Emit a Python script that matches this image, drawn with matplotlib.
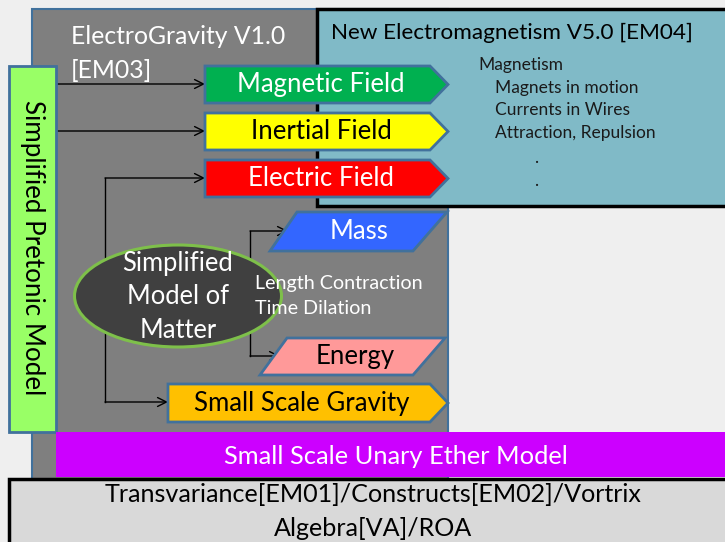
import matplotlib.pyplot as plt
from matplotlib.patches import Polygon, Rectangle, Ellipse

plt.rcParams['font.family'] = ['Lato', 'DejaVu Sans']

# --- labels and colours of the diagram blocks ---
field_labels = ["Magnetic Field", "Inertial Field", "Electric Field"]
field_colors = ["#00b050", "#ffff00", "#ff0000"]
field_text = ["white", "black", "white"]

para_labels = ["Mass", "Energy"]
para_colors = ["#3366ff", "#ff9999"]
para_text = ["white", "black"]

gravity_label = "Small Scale Gravity"
em_title = "New Electromagnetism V5.0 [EM04]"
em_items = ["Magnetism", "Magnets in motion", "Currents in Wires", "Attraction, Repulsion", ".", "."]
eg_title = ["ElectroGravity V1.0", "[EM03]"]
matter_label = ["Simplified", "Model of", "Matter"]
relativity_items = ["Length Contraction", "Time Dilation"]
pretonic_label = "Simplified Pretonic Model"
ether_label = "Small Scale Unary Ether Model"
base_label = ["Transvariance[EM01]/Constructs[EM02]/Vortrix", "Algebra[VA]/ROA"]

EDGE = "#41719c"

fig = plt.figure(figsize=(7.25, 5.42), dpi=100, facecolor="#efefef")
ax = fig.add_axes([0, 0, 1, 1])
ax.set_xlim(0, 725)
ax.set_ylim(542, 0)
ax.axis("off")


def pentagon(x0, x1, y0, y1, color, tip=18, z=5):
    ym = (y0 + y1) / 2
    pts = [(x0, y0), (x1 - tip, y0), (x1, ym), (x1 - tip, y1), (x0, y1)]
    ax.add_patch(Polygon(pts, closed=True, fc=color, ec=EDGE, lw=2, zorder=z))


def parallelogram(xbl, xtl, xtr, xbr, y0, y1, color, z=5):
    pts = [(xtl, y0), (xtr, y0), (xbr, y1), (xbl, y1)]
    ax.add_patch(Polygon(pts, closed=True, fc=color, ec=EDGE, lw=2, zorder=z))


def connector(x0, y0, x1, y1):
    ax.annotate("", xy=(x1, y1), xytext=(x0, y0),
                arrowprops=dict(arrowstyle="->", lw=1, color="black",
                                shrinkA=0, shrinkB=0, mutation_scale=16),
                zorder=3)


# big grey ElectroGravity box
ax.add_patch(Rectangle((32, 9), 416, 472, fc="#7f7f7f", ec=EDGE, lw=1.5, zorder=1))
# teal electromagnetism box
ax.add_patch(Rectangle((317, 9), 420, 197, fc="#80bac7", ec="black", lw=2.5, zorder=2))

for t, y in zip(eg_title, [36, 70]):
    ax.text(71, y, t, color="white", fontsize=17.8, ha="left", va="center", zorder=6)
ax.text(331, 33, em_title, color="black", fontsize=16.2, ha="left", va="center", zorder=6)
em_x = [478, 495, 495, 495, 534, 534]
em_y = [65, 88, 110, 133, 158, 181]
for t, x, y in zip(em_items, em_x, em_y):
    ax.text(x, y, t, color="#1a1a1a", fontsize=12.5, ha="left", va="center", zorder=6)

# field arrows
field_y = [(66, 103), (113, 150), (160, 197)]
for lab, col, tc, (y0, y1) in zip(field_labels, field_colors, field_text, field_y):
    pentagon(205, 448, y0, y1, col)
    ax.text(321, (y0 + y1) / 2, lab, color=tc, fontsize=18.5, ha="center", va="center", zorder=6)

# mass / energy parallelograms
para_geom = [(270, 297, 447, 413, 212, 251), (260, 287, 445, 413, 338, 375)]
para_tx = [359, 355]
for lab, col, tc, g, tx in zip(para_labels, para_colors, para_text, para_geom, para_tx):
    parallelogram(*g, col)
    ax.text(tx, (g[4] + g[5]) / 2, lab, color=tc, fontsize=18.5, ha="center", va="center", zorder=6)

# small scale gravity arrow
pentagon(168, 448, 384, 422, "#ffc000")
ax.text(302, 404, gravity_label, color="black", fontsize=18.5, ha="center", va="center", zorder=6)

# connector lines
connector(56, 84, 205, 84)
connector(56, 131, 205, 131)
ax.plot([105, 105], [178, 402], color="black", lw=1, zorder=3)
connector(105, 178, 205, 178)
connector(105, 402, 168, 402)
ax.plot([250, 250], [231, 356], color="black", lw=1, zorder=3)
connector(250, 231, 288, 231)
connector(250, 356, 280, 356)

# ellipse: simplified model of matter
ax.add_patch(Ellipse((178, 296), 207, 102, fc="#404040", ec="#7ec04a", lw=2.2, zorder=4))
for t, y in zip(matter_label, [263, 297, 331]):
    ax.text(178, y, t, color="white", fontsize=18.4, ha="center", va="center", zorder=6)
for t, y in zip(relativity_items, [283, 309]):
    ax.text(255, y, t, color="white", fontsize=14.2, ha="left", va="center", zorder=6)

# green vertical pretonic bar
ax.add_patch(Rectangle((9, 66), 47, 366, fc="#99ff66", ec=EDGE, lw=2, zorder=5))
ax.text(32, 248, pretonic_label, color="black", fontsize=18.7, rotation=-90,
        ha="center", va="center", zorder=6)

# purple ether bar
ax.add_patch(Rectangle((56, 432), 680, 45, fc="#cc00ff", ec="none", zorder=5))
ax.text(396, 456, ether_label, color="white", fontsize=18.3, ha="center", va="center", zorder=6)

# bottom base box
ax.add_patch(Rectangle((9, 479), 730, 70, fc="#d9d9d9", ec="black", lw=2.5, zorder=7))
for t, y in zip(base_label, [495, 528]):
    ax.text(373, y, t, color="black", fontsize=18.1, ha="center", va="center", zorder=8)

fig.savefig("out.png", dpi=100, facecolor=fig.get_facecolor())
